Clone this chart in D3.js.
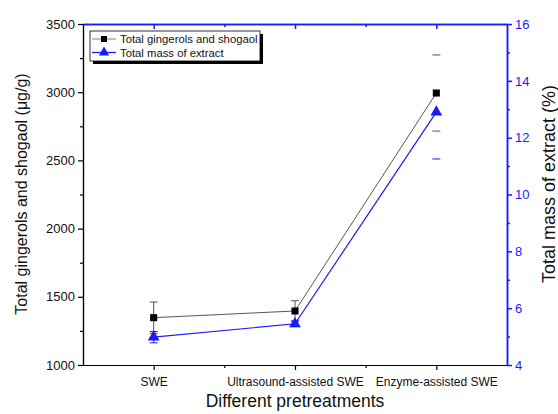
<!DOCTYPE html>
<html><head><meta charset="utf-8">
<script src="https://cdn.jsdelivr.net/npm/d3@7"></script>
<style>body{margin:0;background:#fff}svg{display:block;font-family:"Liberation Sans",Arial,sans-serif}</style>
</head><body>
<svg id="c" width="558" height="414"></svg>
<script>
const categories = ["SWE", "Ultrasound-assisted SWE", "Enzyme-assisted SWE"];
const gingerols = [1347, 1396, 2994];
const gingerolsErr = [115, 75, 279];
const massExtract = [4.98, 5.45, 12.9];
const massErrUp = [0.2, 0.1, 0];
const massErrDown = [0.2, 0.1, 1.65];
const stemVisible = [true, true, false];
const leftTicks = [1000, 1500, 2000, 2500, 3000, 3500];
const rightTicks = [4, 6, 8, 10, 12, 14, 16];
const seriesNames = ["Total gingerols and shogaol", "Total mass of extract"];

const svg = d3.select("#c");
const L = 83, R = 507, T = 24, B = 365;
const blue = "#1a1aff";
const x = d3.scaleLinear().domain([0.5, 3.5]).range([L, R]);
const yL = d3.scaleLinear().domain([1000, 3500]).range([B, T]);
const yR = d3.scaleLinear().domain([4, 16]).range([B, T]);

// bottom axis
const gB = svg.append("g").attr("transform", `translate(0,${B})`)
  .call(d3.axisBottom(x).tickValues([1,2,3]).tickFormat((d,i)=>categories[i]).tickSize(5).tickSizeOuter(0));
gB.append("g").call(d3.axisBottom(x).tickValues([1.5,2.5]).tickFormat("").tickSize(3).tickSizeOuter(0));
gB.selectAll("text").attr("font-size", 12).attr("fill", "#111").attr("dy", "1.05em");
gB.selectAll("path,line").attr("stroke", "#000").attr("stroke-width", 1.2);

// top axis
const gT = svg.append("g").attr("transform", `translate(0,${T})`)
  .call(d3.axisBottom(x).tickValues([1,2,3]).tickFormat("").tickSize(5).tickSizeOuter(0));
gT.append("g").call(d3.axisBottom(x).tickValues([1.5,2.5]).tickFormat("").tickSize(3).tickSizeOuter(0));
gT.selectAll("path,line").attr("stroke", blue).attr("stroke-width", 1.5);

// left axis
const gL = svg.append("g").attr("transform", `translate(${L},0)`)
  .call(d3.axisLeft(yL).tickValues(leftTicks).tickFormat(d3.format("d")).tickSize(5).tickSizeOuter(0));
gL.append("g").call(d3.axisLeft(yL).tickValues([1250,1750,2250,2750,3250]).tickFormat("").tickSize(3).tickSizeOuter(0));
gL.selectAll("text").attr("font-size", 13).attr("fill", "#111");
gL.selectAll("path,line").attr("stroke", "#000").attr("stroke-width", 1.2);

// right axis
const gR = svg.append("g").attr("transform", `translate(${R},0)`)
  .call(d3.axisRight(yR).tickValues(rightTicks).tickFormat(d3.format("d")).tickSize(5).tickSizeOuter(0));
gR.append("g").call(d3.axisRight(yR).tickValues([5,7,9,11,13,15]).tickFormat("").tickSize(3).tickSizeOuter(0));
gR.selectAll("text").attr("font-size", 13).attr("fill", blue);
gR.selectAll("path,line").attr("stroke", blue).attr("stroke-width", 1.5);

// axis titles
svg.append("text").attr("x", 295).attr("y", 407).attr("text-anchor", "middle")
  .attr("font-size", 17.5).attr("fill", "#111").text("Different pretreatments");
svg.append("text").attr("transform", `translate(27,194) rotate(-90)`).attr("text-anchor", "middle")
  .attr("font-size", 16).attr("fill", "#111").text("Total gingerols and shogaol (\u03bcg/g)");
svg.append("text").attr("transform", `translate(555,184) rotate(-90)`).attr("text-anchor", "middle")
  .attr("font-size", 18).attr("fill", "#111").text("Total mass of extract (%)");

const idx = [0,1,2];
// error bars black
const eb = svg.append("g").attr("stroke", "#555").attr("stroke-width", 1);
idx.forEach(i => {
  const cx = x(i+1), y1 = yL(gingerols[i]+gingerolsErr[i]), y2 = yL(gingerols[i]-gingerolsErr[i]);
  if (stemVisible[i]) eb.append("line").attr("x1", cx).attr("x2", cx).attr("y1", y1).attr("y2", y2);
  eb.append("line").attr("x1", cx-4).attr("x2", cx+4).attr("y1", y1).attr("y2", y1);
  eb.append("line").attr("x1", cx-4).attr("x2", cx+4).attr("y1", y2).attr("y2", y2);
});
const ebB = svg.append("g").attr("stroke", blue).attr("stroke-width", 1);
idx.forEach(i => {
  const cx = x(i+1), y1 = yR(massExtract[i]+massErrUp[i]), y2 = yR(massExtract[i]-massErrDown[i]);
  if (stemVisible[i]) ebB.append("line").attr("x1", cx).attr("x2", cx).attr("y1", y1).attr("y2", y2);
  if (massErrUp[i] > 0) ebB.append("line").attr("x1", cx-4).attr("x2", cx+4).attr("y1", y1).attr("y2", y1);
  ebB.append("line").attr("x1", cx-4).attr("x2", cx+4).attr("y1", y2).attr("y2", y2);
});

// lines
svg.append("path").datum(idx).attr("fill", "none").attr("stroke", "#444").attr("stroke-width", 0.9)
  .attr("d", d3.line().x(i => x(i+1)).y(i => yL(gingerols[i])));
svg.append("path").datum(idx).attr("fill", "none").attr("stroke", blue).attr("stroke-width", 1.2)
  .attr("d", d3.line().x(i => x(i+1)).y(i => yR(massExtract[i])));

// markers
const sq = d3.symbol().type(d3.symbolSquare).size(50);
const tri = d3.symbol().type(d3.symbolTriangle).size(60);
svg.append("g").selectAll("path").data(idx).join("path")
  .attr("transform", i => `translate(${x(i+1)},${yL(gingerols[i])})`).attr("d", sq).attr("fill", "#000");
svg.append("g").selectAll("path").data(idx).join("path")
  .attr("transform", i => `translate(${x(i+1)},${yR(massExtract[i])})`).attr("d", tri).attr("fill", blue);

// legend
const lg = svg.append("g").attr("transform", "translate(90,31)");
lg.append("rect").attr("x", 3).attr("y", 3).attr("width", 170).attr("height", 30).attr("fill", "#000");
lg.append("rect").attr("x", 0).attr("y", 0).attr("width", 170).attr("height", 30).attr("fill", "#fff").attr("stroke", "#000").attr("stroke-width", 0.8);
const rows = [{c:"#777", f:"#000", w:0.9}, {c:blue, f:blue, w:1.3}];
rows.forEach((r, k) => {
  const yy = 8 + k*13.5;
  lg.append("line").attr("x1", 2).attr("x2", 26).attr("y1", yy).attr("y2", yy).attr("stroke", r.c).attr("stroke-width", r.w);
  lg.append("path").attr("transform", `translate(14,${yy})`).attr("d", k === 0 ? d3.symbol().type(d3.symbolSquare).size(36)() : d3.symbol().type(d3.symbolTriangle).size(45)()).attr("fill", r.f);
  lg.append("text").attr("x", 30).attr("y", yy + 4).attr("font-size", 11.3).attr("fill", "#111").text(seriesNames[k]);
});
</script>
</body></html>
